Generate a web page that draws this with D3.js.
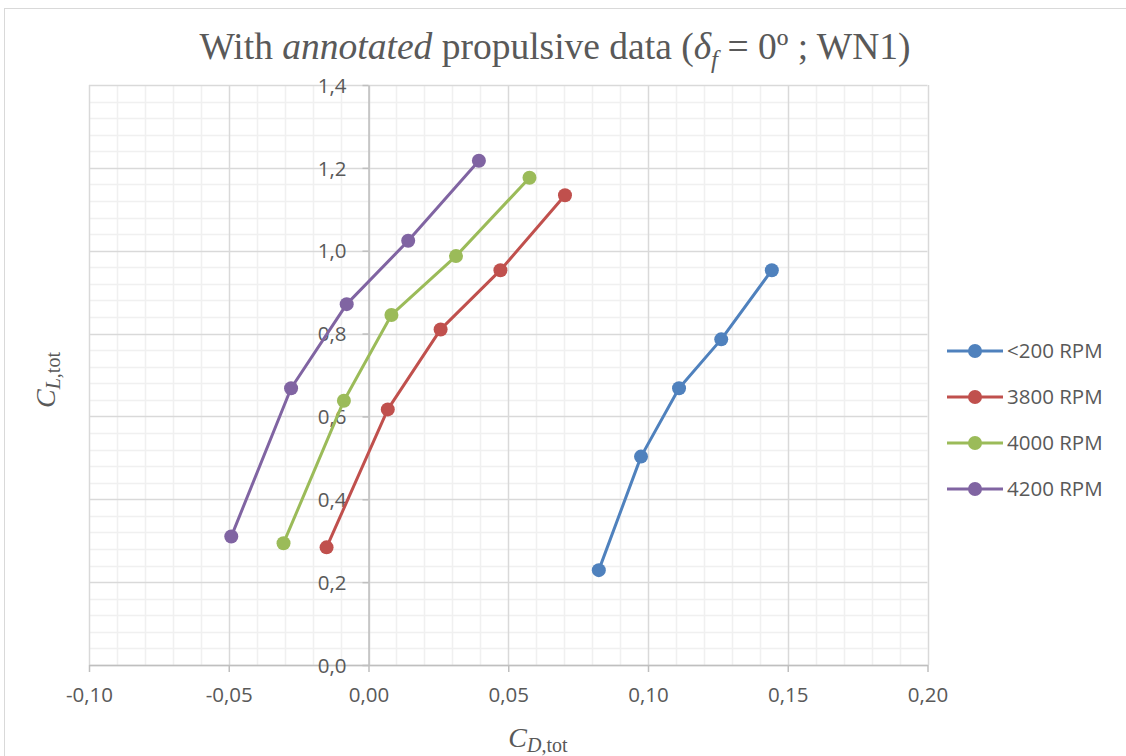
<!DOCTYPE html>
<html>
<head>
<meta charset="utf-8">
<script src="https://cdn.jsdelivr.net/npm/d3@7"></script>
<style>
  html, body { margin: 0; padding: 0; background: #fff; }
  svg { display: block; }
</style>
</head>
<body>
<svg id="chart" width="1126" height="756"></svg>
<script>
// Series: drag coefficient (x) and lift coefficient (y) per propeller speed
const seriesNames = ["<200 RPM", "3800 RPM", "4000 RPM", "4200 RPM"];
const seriesColors = ["#4f81bd", "#c0504d", "#9bbb59", "#8064a2"];

const cd200  = [0.0824, 0.0975, 0.1111, 0.1262, 0.1443];
const cl200  = [0.229, 0.503, 0.668, 0.786, 0.953];

const cd3800 = [-0.0150, 0.0069, 0.0258, 0.0472, 0.0703];
const cl3800 = [0.284, 0.617, 0.810, 0.953, 1.134];

const cd4000 = [-0.0304, -0.0088, 0.0082, 0.0313, 0.0576];
const cl4000 = [0.294, 0.638, 0.845, 0.987, 1.176];

const cd4200 = [-0.0491, -0.0277, -0.0078, 0.0142, 0.0395];
const cl4200 = [0.310, 0.668, 0.871, 1.024, 1.217];

const xTicks = [-0.10, -0.05, 0.00, 0.05, 0.10, 0.15, 0.20];
const yTicks = [0.0, 0.2, 0.4, 0.6, 0.8, 1.0, 1.2, 1.4];

const series = [
  { name: seriesNames[0], color: seriesColors[0], xs: cd200,  ys: cl200 },
  { name: seriesNames[1], color: seriesColors[1], xs: cd3800, ys: cl3800 },
  { name: seriesNames[2], color: seriesColors[2], xs: cd4000, ys: cl4000 },
  { name: seriesNames[3], color: seriesColors[3], xs: cd4200, ys: cl4200 }
];

const svg = d3.select("#chart");
const fmt = (d, n) => d.toFixed(n).replace(".", ",");
const tickFont = "'Open Sans', 'Liberation Sans', sans-serif";
const serif = "'Liberation Serif', 'Times New Roman', serif";

// Chart frame
svg.append("rect")
  .attr("x", 4.5).attr("y", 8.5).attr("width", 1130).attr("height", 760)
  .attr("fill", "#fff").attr("stroke", "#d9d9d9").attr("stroke-width", 1);

const plot = { left: 89, right: 927.5, top: 85, bottom: 665 };

const x = d3.scaleLinear().domain([-0.10, 0.20]).range([plot.left, plot.right]);
const y = d3.scaleLinear().domain([0, 1.4]).range([plot.bottom, plot.top]);

const g = svg.append("g");

// Minor gridlines: every 0.01 in CD, every 0.04 in CL
const xMinor = d3.range(-10, 21).map(i => i / 100).filter(v => Math.abs(Math.round(v * 100) % 5) !== 0);
const yMinor = d3.range(0, 36).map(i => i * 0.04).filter(v => Math.abs(Math.round(v * 100) % 20) !== 0 && v <= 1.4);

g.selectAll(".xminor").data(xMinor).join("line")
  .attr("x1", d => Math.round(x(d)) + 0.5).attr("x2", d => Math.round(x(d)) + 0.5)
  .attr("y1", plot.top).attr("y2", plot.bottom)
  .attr("stroke", "#f0f0f0").attr("stroke-width", 1.5);
g.selectAll(".yminor").data(yMinor).join("line")
  .attr("y1", d => Math.round(y(d)) + 0.5).attr("y2", d => Math.round(y(d)) + 0.5)
  .attr("x1", plot.left).attr("x2", plot.right)
  .attr("stroke", "#f0f0f0").attr("stroke-width", 1.5);

// Major gridlines
g.selectAll(".xmajor").data(xTicks).join("line")
  .attr("x1", d => Math.round(x(d)) + 0.5).attr("x2", d => Math.round(x(d)) + 0.5)
  .attr("y1", plot.top).attr("y2", plot.bottom)
  .attr("stroke", "#d9d9d9").attr("stroke-width", 1.5);
g.selectAll(".ymajor").data(yTicks).join("line")
  .attr("y1", d => Math.round(y(d)) + 0.5).attr("y2", d => Math.round(y(d)) + 0.5)
  .attr("x1", plot.left).attr("x2", plot.right)
  .attr("stroke", "#d9d9d9").attr("stroke-width", 1.5);

// Axes: y axis sits on CD = 0, x axis on CL = 0
const xAxis = d3.axisBottom(x).tickValues(xTicks).tickFormat(d => fmt(d, 2)).tickSize(7).tickSizeOuter(0);
const yAxis = d3.axisLeft(y).tickValues(yTicks).tickFormat(d => fmt(d, 1)).tickSize(6).tickSizeOuter(0);

const xa = svg.append("g").attr("transform", `translate(0,${plot.bottom})`).call(xAxis);
const ya = svg.append("g").attr("transform", `translate(${x(0)},0)`).call(yAxis);

[xa, ya].forEach(a => {
  a.select(".domain").attr("stroke", "#bfbfbf").attr("stroke-width", 1.5);
  a.selectAll(".tick line").attr("stroke", "#bfbfbf").attr("stroke-width", 1.5);
  a.selectAll(".tick text")
    .attr("fill", "#595959")
    .style("font-family", tickFont)
    .style("font-size", "20.5px");
});
xa.selectAll(".tick text").attr("y", 30).attr("dy", "0.35em");
ya.selectAll(".tick text").attr("x", -22).attr("dy", "0.35em");

// Series lines and markers
const line = d3.line().x(d => x(d[0])).y(d => y(d[1]));
series.forEach(s => {
  const pts = s.xs.map((v, i) => [v, s.ys[i]]);
  svg.append("path")
    .datum(pts)
    .attr("d", line)
    .attr("fill", "none")
    .attr("stroke", s.color)
    .attr("stroke-width", 3)
    .attr("stroke-linejoin", "round");
  svg.selectAll(null).data(pts).join("circle")
    .attr("cx", d => x(d[0])).attr("cy", d => y(d[1]))
    .attr("r", 7)
    .attr("fill", s.color);
});

// Title
const title = svg.append("text")
  .attr("x", 555).attr("y", 59)
  .attr("text-anchor", "middle")
  .attr("fill", "#595959")
  .style("font-family", serif)
  .style("font-size", "37.5px");
title.append("tspan").text("With ");
title.append("tspan").attr("font-style", "italic").text("annotated");
title.append("tspan").text(" propulsive data (");
title.append("tspan").attr("font-style", "italic").text("δ");
title.append("tspan").attr("font-style", "italic").attr("font-size", "25px").attr("dy", 9).text("f");
title.append("tspan").attr("dy", -9).text(" = 0º ; WN1)");

// Axis titles
const xTitle = svg.append("text")
  .attr("x", 538).attr("y", 747)
  .attr("text-anchor", "middle")
  .attr("fill", "#595959")
  .style("font-family", serif)
  .style("font-size", "28px");
xTitle.append("tspan").attr("font-style", "italic").text("C");
xTitle.append("tspan").attr("font-size", "20px").attr("dy", 5).attr("font-style", "italic").text("D");
xTitle.append("tspan").attr("font-size", "20px").text(",tot");

const yTitle = svg.append("text")
  .attr("transform", "translate(55,380) rotate(-90)")
  .attr("text-anchor", "middle")
  .attr("fill", "#595959")
  .style("font-family", serif)
  .style("font-size", "28px");
yTitle.append("tspan").attr("font-style", "italic").text("C");
yTitle.append("tspan").attr("font-size", "20px").attr("dy", 5).attr("font-style", "italic").text("L");
yTitle.append("tspan").attr("font-size", "20px").text(",tot");

// Legend
const legend = svg.append("g").attr("transform", "translate(947,351)");
series.forEach((s, i) => {
  const row = legend.append("g").attr("transform", `translate(0,${i * 46})`);
  row.append("line").attr("x1", 0).attr("x2", 56).attr("y1", 0).attr("y2", 0)
    .attr("stroke", s.color).attr("stroke-width", 3);
  row.append("circle").attr("cx", 28).attr("cy", 0).attr("r", 7).attr("fill", s.color);
  row.append("text").attr("x", 60).attr("y", 0).attr("dy", "0.35em")
    .attr("fill", "#595959")
    .style("font-family", tickFont)
    .style("font-size", "20.5px")
    .text(s.name);
});
</script>
</body>
</html>
